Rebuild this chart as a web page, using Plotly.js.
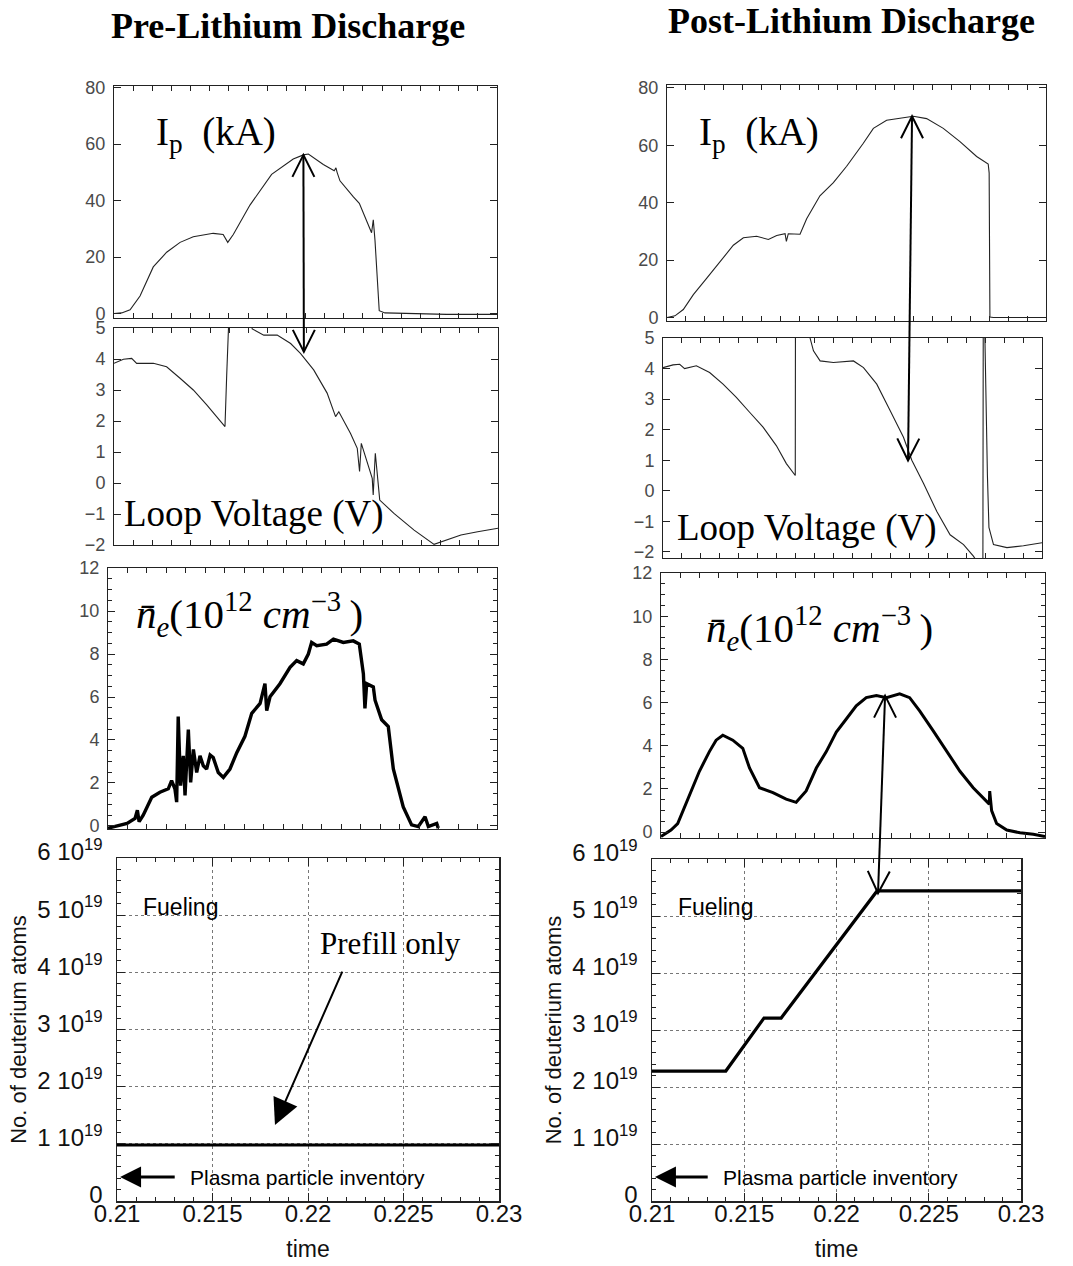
<!DOCTYPE html>
<html><head><meta charset="utf-8">
<script src="https://cdn.plot.ly/plotly-3.0.1.min.js"></script>
<style>html,body{margin:0;padding:0;background:#fff}#chart{width:1073px;height:1266px}</style>
</head><body><div id="chart"></div>
<script>
// ---------------- DATA ----------------
// Pre-lithium plasma current Ip (kA)
const ipPreT = [0.2100,0.2104,0.21084,0.21136,0.21205,0.21275,0.21345,0.21414,0.21518,0.2157,0.21594,0.21623,0.2171,0.21823,0.21936,0.21989,0.22015,0.22093,0.22150,0.22159,0.22165,0.2218,0.2225,0.22281,0.22345,0.22354,0.22363,0.22385,0.22415,0.2250,0.22737,0.2300];
const ipPreV = [0,0.2,1.3,6.2,16.5,21.7,25.2,27.2,28.4,28.0,25.2,28.0,38.4,49.3,54.7,56.2,56.5,52.8,50.6,51.6,50.0,47.0,41.3,39.0,28.6,33.2,25.8,1.0,0.2,0,-0.3,-0.3];
// Pre-lithium loop voltage (V)
const vlPreT = [0.2100,0.21049,0.21092,0.21118,0.21205,0.21274,0.21344,0.21413,0.21483,0.21535,0.21578,0.21587,0.21592,0.2160,0.2170,0.2172,0.2178,0.2185,0.2192,0.21971,0.2204,0.2211,0.22154,0.22171,0.22232,0.22267,0.22279,0.22288,0.22345,0.2235,0.22361,0.22384,0.22458,0.22563,0.22667,0.22807,0.22894,0.2300];
const vlPreV = [3.86,3.99,4.02,3.86,3.86,3.75,3.38,3.0,2.52,2.14,1.82,3.48,5.0,5.6,5.6,4.97,4.77,4.77,4.5,4.18,3.65,2.9,2.14,2.3,1.6,1.12,0.37,1.28,0.15,-0.39,0.96,-0.55,-0.98,-1.52,-1.98,-1.68,-1.57,-1.46];
// Pre-lithium line-averaged density (1e12 cm^-3)
const nePreT = [0.2100,0.21098,0.21139,0.21151,0.21160,0.21181,0.21225,0.21267,0.2131,0.21327,0.21344,0.21353,0.21361,0.21373,0.21387,0.21396,0.21413,0.21425,0.21439,0.21456,0.21473,0.21490,0.21507,0.21525,0.21541,0.21567,0.21593,0.21627,0.21662,0.21704,0.21739,0.21782,0.21807,0.21816,0.21833,0.21884,0.21936,0.2197,0.22004,0.2203,0.22047,0.22073,0.22124,0.22159,0.2221,0.22261,0.22292,0.22313,0.22321,0.2233,0.22364,0.22373,0.22407,0.22441,0.22467,0.22484,0.22518,0.22561,0.22595,0.2263,0.22647,0.2269,0.22698];
const nePreV = [-0.1,0.12,0.35,0.73,0.2,0.5,1.34,1.57,1.73,2.11,1.73,1.11,5.09,1.88,3.26,1.42,4.48,2.03,3.56,2.49,3.26,2.8,2.65,3.3,3.18,2.49,2.26,2.65,3.41,4.17,5.24,5.7,6.62,5.37,6.01,6.62,7.38,7.69,7.54,8.0,8.54,8.39,8.46,8.69,8.54,8.61,8.46,7.08,5.47,6.62,6.47,5.85,4.94,4.63,2.65,2.11,0.89,0.05,-0.03,0.43,-0.03,0.12,-0.1];
// Post-lithium plasma current Ip (kA)
const ipPostT = [0.2100,0.21042,0.21086,0.21139,0.2121,0.2128,0.2135,0.21403,0.21473,0.21535,0.21579,0.21623,0.21630,0.21640,0.21702,0.21737,0.21807,0.21878,0.21948,0.22036,0.22089,0.22159,0.2223,0.223,0.2237,0.22458,0.22546,0.22634,0.22695,0.227,0.22704,0.22722,0.2300];
const ipPostV = [0,0.6,2.8,8.0,13.7,19.5,25.2,27.8,28.3,27.2,28.6,29.2,26.5,29.2,29.0,34.4,42.4,47.0,52.7,60.7,65.9,68.7,69.5,70.1,69.3,65.9,61.3,56.1,53.5,50.4,0.2,0,0];
// Post-lithium loop voltage (V)
const vlPostT = [0.2100,0.21053,0.21088,0.21114,0.21176,0.21246,0.21317,0.21387,0.21457,0.21528,0.21598,0.21651,0.21698,0.21699,0.2177,0.21776,0.21794,0.21829,0.21899,0.22005,0.22058,0.22128,0.22199,0.22269,0.22313,0.22375,0.22445,0.22515,0.22586,0.22638,0.22688,0.22690,0.22697,0.22702,0.22706,0.22712,0.22720,0.22744,0.22815,0.22902,0.2300];
const vlPostV = [4.03,4.12,4.14,4.0,4.09,3.87,3.49,3.06,2.57,2.08,1.48,0.89,0.5,5.6,5.6,5.0,4.58,4.25,4.2,4.25,4.03,3.49,2.62,1.75,1.0,0.24,-0.68,-1.44,-1.76,-2.14,-2.6,5.6,5.6,3.3,2.3,0.5,-1.2,-1.76,-1.86,-1.8,-1.7];
// Post-lithium line-averaged density (1e12 cm^-3)
const nePostT = [0.2100,0.21052,0.21087,0.21148,0.212,0.21252,0.21287,0.21322,0.21374,0.21426,0.21461,0.21513,0.21583,0.21652,0.21704,0.21756,0.21809,0.21861,0.21913,0.21965,0.22017,0.22069,0.22122,0.22174,0.22243,0.22295,0.22348,0.22417,0.22487,0.22557,0.22626,0.22678,0.2271,0.22712,0.22722,0.22748,0.22801,0.2287,0.22939,0.2300];
const nePostV = [-0.2,0.1,0.4,1.75,2.82,3.73,4.26,4.49,4.26,3.88,2.97,2.06,1.83,1.53,1.38,1.91,2.97,3.73,4.64,5.24,5.85,6.23,6.33,6.23,6.41,6.23,5.6,4.7,3.73,2.82,2.06,1.6,1.3,1.9,1.0,0.4,0.1,-0.03,-0.1,-0.2];
// Fueling: number of deuterium atoms
const fuelPreT = [0.21, 0.23];
const fuelPreV = [0.98e19, 0.98e19];
const fuelPostT = [0.21, 0.214, 0.21607, 0.217, 0.2222, 0.23];
const fuelPostV = [2.28e19, 2.28e19, 3.21e19, 3.21e19, 5.44e19, 5.44e19];
// Bottom-panel tick labels
const fuelTickVals = [0, 1e19, 2e19, 3e19, 4e19, 5e19, 6e19];
const fuelTickText = ['0', '1\u00a010<sup>19</sup>', '2\u00a010<sup>19</sup>', '3\u00a010<sup>19</sup>', '4\u00a010<sup>19</sup>', '5\u00a010<sup>19</sup>', '6\u00a010<sup>19</sup>'];
const timeTickVals = [0.21, 0.215, 0.22, 0.225, 0.23];
const timeTickText = ['0.21', '0.215', '0.22', '0.225', '0.23'];
// Arrow anchors (time, value)
const arrowPre = {t: 0.21989, ip: 56.2, vl: 4.23};
const arrowPost = {t: 0.22293, ip: 70.1, vl: 0.99};
const arrowFuel = {tNe: 0.22167, ne: 6.32, tFuel: 0.22225, fuel: 5.40e19};
const prefillArrow = {t: 0.21827, v: 1.33e19, t0: 0.22183, v0: 4.04e19};
const inventoryArrow = {v: 0.42e19, tHead: 0.21016, tTail: 0.2131};

// ---------------- LAYOUT GEOMETRY (pixels) ----------------
const W = 1073, H = 1266;
const px = x => x / W;
const py = y => 1 - y / H;
// [left, right, top, bottom] in pixels, plus ranges
const P = {
  L1: {box: [114, 497, 86, 318], xr: [0.21, 0.23], yr: [-1.6, 80.6], n: ''},
  L2: {box: [114, 498, 328, 545], xr: [0.21, 0.23], yr: [-2, 5], n: '2'},
  L3: {box: [108, 497, 568, 829], xr: [0.21, 0.23], yr: [-0.14, 12.0], n: '3'},
  L4: {box: [117, 499, 858, 1201], xr: [0.21, 0.23], yr: [0, 6e19], n: '4'},
  R1: {box: [667, 1046, 85, 321], xr: [0.21, 0.23], yr: [-1.2, 81], n: '5'},
  R2: {box: [663, 1042, 338, 558], xr: [0.21, 0.23], yr: [-2.2, 5.0], n: '6'},
  R3: {box: [661, 1045, 573, 838], xr: [0.21, 0.23], yr: [-0.27, 12.0], n: '7'},
  R4: {box: [652, 1021, 859, 1201], xr: [0.21, 0.23], yr: [0, 6e19], n: '8'}
};
function toPix(k, t, v) {
  const p = P[k], b = p.box;
  return [b[0] + (t - p.xr[0]) / (p.xr[1] - p.xr[0]) * (b[1] - b[0]),
          b[3] - (v - p.yr[0]) / (p.yr[1] - p.yr[0]) * (b[3] - b[2])];
}

const upFont = {family: 'Liberation Sans, Arial, sans-serif', size: 18, color: '#4a4a4a'};
function upperAxes(k, ydtick, yminor) {
  const p = P[k], b = p.box;
  const xa = {domain: [px(b[0]), px(b[1])], range: p.xr, anchor: 'y' + p.n,
    showline: true, linecolor: '#222', linewidth: 1, mirror: 'ticks', ticks: 'inside', ticklen: 5,
    tickcolor: '#222', tick0: 0.21, dtick: 0.001, showticklabels: false, showgrid: false, zeroline: false};
  const ya = {domain: [py(b[3]), py(b[2])], range: p.yr, anchor: 'x' + p.n,
    showline: true, linecolor: '#222', linewidth: 1, mirror: 'ticks', ticks: 'inside', ticklen: 7,
    tickcolor: '#222', tick0: 0, dtick: ydtick, tickfont: upFont, showgrid: false, zeroline: false,
    ticklabelstandoff: 4};
  if (yminor) ya.minor = {dtick: yminor, ticklen: 4, ticks: 'inside', tickcolor: '#222'};
  return [xa, ya];
}
const lowFont = {family: 'Liberation Sans, Arial, sans-serif', size: 24, color: '#111'};
function lowerAxes(k) {
  const p = P[k], b = p.box;
  const xa = {domain: [px(b[0]), px(b[1])], range: p.xr, anchor: 'y' + p.n,
    showline: true, linecolor: '#222', linewidth: 1.5, mirror: 'ticks', ticks: 'inside', ticklen: 8,
    tickcolor: '#222', tickmode: 'array', tickvals: timeTickVals, ticktext: timeTickText,
    tickfont: lowFont, showgrid: true, gridcolor: '#777', griddash: 'dot', gridwidth: 1, zeroline: false,
    minor: {tickmode: 'linear', tick0: 0.21, dtick: 0.001, ticklen: 4, ticks: 'inside', tickcolor: '#222', showgrid: false},
    title: {text: 'time', font: {family: 'Liberation Sans, Arial, sans-serif', size: 23, color: '#111'}, standoff: 14},
    ticklabelstandoff: -9};
  const ya = {domain: [py(b[3]), py(b[2])], range: p.yr, anchor: 'x' + p.n,
    showline: true, linecolor: '#222', linewidth: 1.5, mirror: 'ticks', ticks: 'inside', ticklen: 8,
    tickcolor: '#222', tickmode: 'array', tickvals: fuelTickVals, ticktext: fuelTickText,
    tickfont: lowFont, showgrid: true, gridcolor: '#777', griddash: 'dot', gridwidth: 1, zeroline: false,
    minor: {tickmode: 'linear', tick0: 0, dtick: 0.2e19, ticklen: 4, ticks: 'inside', tickcolor: '#222', showgrid: false},
    title: {text: 'No. of deuterium atoms', font: {family: 'Liberation Sans, Arial, sans-serif', size: 22, color: '#111'}, standoff: 4},
    ticklabelstandoff: 8, ticklabelshift: -6};
  return [xa, ya];
}

const layout = {width: W, height: H, margin: {l: 0, r: 0, t: 0, b: 0},
  paper_bgcolor: '#fff', plot_bgcolor: '#fff', showlegend: false, shapes: [], annotations: []};
function put(k, axes) {
  const n = P[k].n;
  layout['xaxis' + n] = axes[0];
  layout['yaxis' + n] = axes[1];
}
put('L1', upperAxes('L1', 20));
put('L2', upperAxes('L2', 1));
put('L3', upperAxes('L3', 2, 0.5));
put('L4', lowerAxes('L4'));
put('R1', upperAxes('R1', 20));
put('R2', upperAxes('R2', 1));
put('R3', upperAxes('R3', 2, 0.5));
put('R4', lowerAxes('R4'));

function tr(k, x, y, w, c) {
  const n = P[k].n;
  return {type: 'scatter', mode: 'lines', x: x, y: y, xaxis: 'x' + n, yaxis: 'y' + n,
    line: {color: c || '#111', width: w, shape: 'linear'}, hoverinfo: 'skip'};
}
const data = [
  tr('L1', ipPreT, ipPreV, 1.1, '#222'),
  tr('L2', vlPreT, vlPreV, 1.1, '#222'),
  tr('L3', nePreT, nePreV, 3.4, '#000'),
  tr('L4', fuelPreT, fuelPreV, 3.2, '#000'),
  tr('R1', ipPostT, ipPostV, 1.1, '#222'),
  tr('R2', vlPostT, vlPostV, 1.1, '#222'),
  tr('R3', nePostT, nePostV, 3.0, '#000'),
  tr('R4', fuelPostT, fuelPostV, 3.2, '#000')
];

// ---------- double-headed open arrows (drawn as paper shapes) ----------
function pathPaper(pts) {
  return pts.map((p, i) => (i ? 'L' : 'M') + px(p[0]).toFixed(5) + ',' + py(p[1]).toFixed(5)).join(' ');
}
function dblArrow(top, bot, hw, hl) {
  layout.shapes.push({type: 'path', xref: 'paper', yref: 'paper', path: pathPaper([top, bot]), line: {color: '#000', width: 2}});
  layout.shapes.push({type: 'path', xref: 'paper', yref: 'paper',
    path: pathPaper([[top[0] - hw, top[1] + hl], top, [top[0] + hw, top[1] + hl]]), line: {color: '#000', width: 2}});
  const dx = bot[0] - top[0], dy = bot[1] - top[1], L = Math.hypot(dx, dy);
  const ux = dx / L, uy = dy / L;
  layout.shapes.push({type: 'path', xref: 'paper', yref: 'paper',
    path: pathPaper([[bot[0] - ux * hl - uy * hw, bot[1] - uy * hl + ux * hw], bot,
                     [bot[0] - ux * hl + uy * hw, bot[1] - uy * hl - ux * hw]]), line: {color: '#000', width: 2}});
}
dblArrow(toPix('L1', arrowPre.t, arrowPre.ip), toPix('L2', arrowPre.t, arrowPre.vl), 11, 22);
dblArrow(toPix('R1', arrowPost.t, arrowPost.ip), toPix('R2', arrowPost.t, arrowPost.vl), 11, 22);
dblArrow(toPix('R3', arrowFuel.tNe, arrowFuel.ne), toPix('R4', arrowFuel.tFuel, arrowFuel.fuel), 11, 22);

// ---------- filled arrows in the fueling panels ----------
layout.annotations.push({xref: 'x4', yref: 'y4', axref: 'x4', ayref: 'y4',
  x: prefillArrow.t, y: prefillArrow.v, ax: prefillArrow.t0, ay: prefillArrow.v0,
  text: '', showarrow: true, arrowhead: 2, arrowsize: 2.6, arrowwidth: 2, arrowcolor: '#000'});
['4', '8'].forEach(n => layout.annotations.push({xref: 'x' + n, yref: 'y' + n, axref: 'x' + n, ayref: 'y' + n,
  x: inventoryArrow.tHead, y: inventoryArrow.v, ax: inventoryArrow.tTail, ay: inventoryArrow.v,
  text: '', showarrow: true, arrowhead: 2, arrowsize: 1.4, arrowwidth: 3, arrowcolor: '#000'}));

// ---------- text labels ----------
const serif = 'Liberation Serif, Times New Roman, serif';
const sans = 'Liberation Sans, Arial, sans-serif';
function txt(x, y, s, size, family, anchor, extra) {
  layout.annotations.push(Object.assign({xref: 'paper', yref: 'paper', x: px(x), y: py(y), text: s,
    showarrow: false, xanchor: anchor || 'left', yanchor: 'middle',
    font: {family: family, size: size, color: '#000'}}, extra || {}));
}
txt(288, 26, '<b>Pre-Lithium Discharge</b>', 36, serif, 'center');
txt(851, 21, '<b>Post-Lithium Discharge</b>', 36, serif, 'center');
const ipLabel = 'I<sub>p</sub>  (kA)';
txt(154, 134, ipLabel, 39, serif);
txt(697, 134, ipLabel, 39, serif);
txt(122, 514, 'Loop Voltage (V)', 37, serif);
txt(675, 528, 'Loop Voltage (V)', 37, serif);
const neLabel = '<i>n\u0304<sub>e</sub></i>(10<sup>12</sup>\u00a0<i>cm</i><sup>\u22123</sup>\u2009)';
txt(134, 614, neLabel, 41, serif);
txt(704, 628, neLabel, 41, serif);
txt(141, 907, 'Fueling', 23, sans);
txt(676, 907, 'Fueling', 23, sans);
txt(318, 943, 'Prefill only', 31, serif);
txt(188, 1177, 'Plasma particle inventory', 21, sans);
txt(721, 1177, 'Plasma particle inventory', 21, sans);

Plotly.newPlot('chart', data, layout, {staticPlot: true, displayModeBar: false});
</script>
</body></html>
